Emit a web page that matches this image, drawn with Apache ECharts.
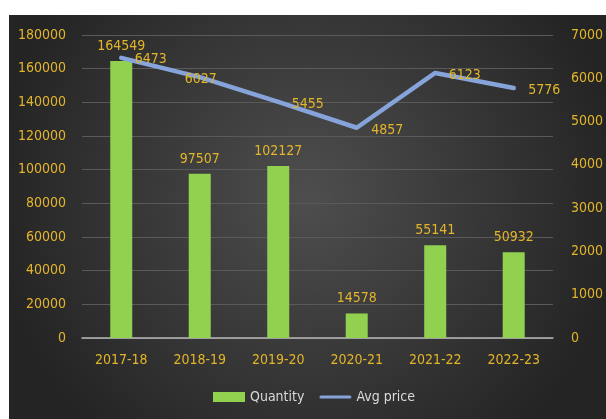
<!DOCTYPE html>
<html>
<head>
<meta charset="utf-8">
<script src="https://cdn.jsdelivr.net/npm/echarts@6/dist/echarts.min.js"></script>
<style>
  html, body { margin: 0; padding: 0; background: #ffffff; }
  #chart { position: absolute; left: 9px; top: 15px; width: 597px; height: 404px; }
</style>
</head>
<body>
<div id="chart"></div>
<script>
// Yearly quantity (bars, left axis) and average price (line, right axis)
const categories = ['2017-18', '2018-19', '2019-20', '2020-21', '2021-22', '2022-23'];
const quantity = [164549, 97507, 102127, 14578, 55141, 50932];
const avgPrice = [6473, 6027, 5455, 4857, 6123, 5776];
const quantityTicks = { min: 0, max: 180000, interval: 20000 };
const priceTicks = { min: 0, max: 7000, interval: 1000 };

const FONT = "'DejaVu Sans Condensed', 'Liberation Sans Narrow', 'Liberation Sans', sans-serif";
const GOLD = '#e3b52a';
const GREEN = '#92d050';
const BLUE = '#86a4da';

// legend swatch for the price line: a thin bar with rounded ends
const LINE_ICON = 'path://M2,0 H38 A2,2 0 0 1 38,4 H2 A2,2 0 0 1 2,0 Z';

// price labels sit to the right of each point, except 2018-19 which is centred on it
const priceLabelPlacement = [
  { position: 'right', offset: [0, 2] },
  { position: 'inside', offset: [1, 2] },
  { position: 'right', offset: [0, 2] },
  { position: 'right', offset: [1, 3] },
  { position: 'right', offset: [0, 2] },
  { position: 'right', offset: [1, 2] }
];

const plain = v => String(v);

const chart = echarts.init(document.getElementById('chart'), null, { renderer: 'canvas' });

chart.setOption({
  animation: false,
  backgroundColor: {
    type: 'radial', x: 0.5, y: 0.45, r: 0.78,
    colorStops: [
      { offset: 0, color: '#4e4e4e' },
      { offset: 1, color: '#242424' }
    ]
  },
  textStyle: { fontFamily: FONT },
  grid: { left: 73, right: 53, top: 20, bottom: 81, containLabel: false },
  legend: {
    left: 204, top: 375, padding: 0,
    itemWidth: 32, itemHeight: 10, itemGap: 15,
    symbolKeepAspect: true,
    textStyle: { color: '#d9d9d9', fontSize: 14, fontFamily: FONT },
    data: [
      { name: 'Quantity', icon: 'rect' },
      { name: 'Avg price', icon: LINE_ICON }
    ]
  },
  xAxis: {
    type: 'category',
    data: categories,
    axisTick: { show: false },
    axisLine: { lineStyle: { color: '#b8b8b8', width: 1.5 } },
    axisLabel: { color: GOLD, fontSize: 14, margin: 15, fontFamily: FONT }
  },
  yAxis: [
    {
      type: 'value',
      min: quantityTicks.min, max: quantityTicks.max, interval: quantityTicks.interval,
      axisLine: { show: false },
      axisTick: { show: false },
      axisLabel: { color: GOLD, fontSize: 14, margin: 16, fontFamily: FONT, formatter: plain },
      splitLine: { lineStyle: { color: '#5a5a5a', width: 1 } }
    },
    {
      type: 'value',
      min: priceTicks.min, max: priceTicks.max, interval: priceTicks.interval,
      axisLine: { show: false },
      axisTick: { show: false },
      axisLabel: { color: GOLD, fontSize: 14, margin: 18, fontFamily: FONT, formatter: plain },
      splitLine: { show: false }
    }
  ],
  series: [
    {
      name: 'Quantity',
      type: 'bar',
      yAxisIndex: 0,
      data: quantity,
      barWidth: 22,
      itemStyle: { color: GREEN },
      label: {
        show: true, position: 'top', distance: 8,
        color: GOLD, fontSize: 14, fontFamily: FONT
      },
      z: 2
    },
    {
      name: 'Avg price',
      type: 'line',
      yAxisIndex: 1,
      data: avgPrice.map((v, i) => ({
        value: v,
        label: priceLabelPlacement[i]
      })),
      symbol: 'circle',
      symbolSize: 3,
      itemStyle: { color: BLUE },
      lineStyle: { color: BLUE, width: 4.5, cap: 'round', join: 'round' },
      label: {
        show: true, distance: 12,
        color: GOLD, fontSize: 14, fontFamily: FONT
      },
      z: 3
    }
  ]
});
</script>
</body>
</html>
